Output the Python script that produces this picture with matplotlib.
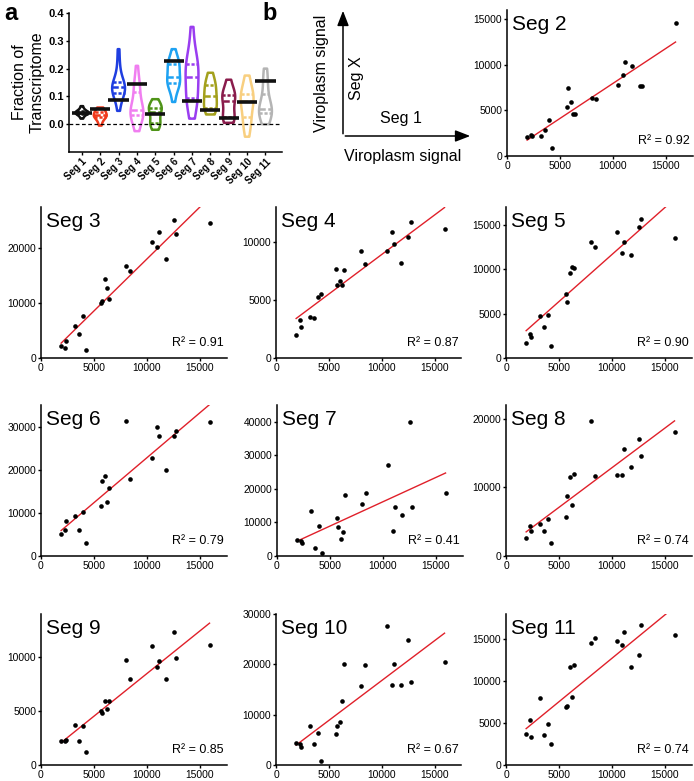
import numpy as np
import pandas as pd
import matplotlib
matplotlib.use('Agg')
import matplotlib.pyplot as plt
import seaborn as sns

plt.rcParams['font.family'] = ['Liberation Sans', 'DejaVu Sans']

# ---- panel a: fraction of transcriptome per segment ----
seg_names = ['Seg 1', 'Seg 2', 'Seg 3', 'Seg 4', 'Seg 5', 'Seg 6',
             'Seg 7', 'Seg 8', 'Seg 9', 'Seg 10', 'Seg 11']
seg_colors = ['#111111', '#f0391c', '#1f3ee0', '#f07ef0', '#4f9418', '#1ea2f2',
              '#9a3df0', '#a3a01c', '#8a1c4c', '#f8cf80', '#b4b4b4']
fractions = [
    [0.02, 0.03, 0.035, 0.038, 0.04, 0.041, 0.042, 0.043, 0.045, 0.048, 0.055, 0.065],
    [-0.005, 0.01, 0.02, 0.025, 0.028, 0.03, 0.032, 0.035, 0.04, 0.045, 0.05, 0.055, 0.06],
    [0.048, 0.08, 0.1, 0.11, 0.115, 0.12, 0.125, 0.13, 0.135, 0.14, 0.145, 0.15, 0.16, 0.19, 0.22, 0.27],
    [-0.025, 0.01, 0.025, 0.03, 0.035, 0.04, 0.045, 0.05, 0.055, 0.07, 0.1, 0.13, 0.14, 0.15, 0.21],
    [-0.02, -0.005, 0.0, 0.005, 0.01, 0.03, 0.045, 0.055, 0.058, 0.06, 0.065, 0.07, 0.09],
    [0.08, 0.12, 0.14, 0.145, 0.15, 0.155, 0.16, 0.17, 0.19, 0.21, 0.215, 0.22, 0.225, 0.23, 0.27],
    [0.02, 0.06, 0.08, 0.09, 0.1, 0.12, 0.15, 0.17, 0.19, 0.2, 0.21, 0.22, 0.24, 0.28, 0.35],
    [0.035, 0.05, 0.055, 0.06, 0.07, 0.09, 0.1, 0.11, 0.12, 0.14, 0.15, 0.155, 0.185],
    [0.005, 0.015, 0.02, 0.025, 0.03, 0.06, 0.085, 0.095, 0.1, 0.105, 0.11, 0.13, 0.16],
    [-0.045, -0.01, 0.0, 0.02, 0.04, 0.06, 0.08, 0.09, 0.095, 0.1, 0.11, 0.12, 0.15, 0.175],
    [0.0, 0.02, 0.035, 0.04, 0.045, 0.05, 0.055, 0.06, 0.08, 0.11, 0.14, 0.17, 0.2],
]
expected = [0.04, 0.053, 0.088, 0.145, 0.035, 0.228, 0.083, 0.052, 0.023, 0.08, 0.155]

# ---- panel b: viroplasm signal, Seg 1 vs Seg X ----
seg1_signal = [1900, 2300, 2400, 3200, 3550, 3950, 4250, 5700, 5750, 6000, 6200,
               6400, 8000, 8350, 10450, 10900, 11100, 11800, 12500, 12750, 15900]
seg2 = [2100, 2300, 2200, 2150, 2800, 4000, 900, 5400, 7400, 5900, 4550,
        4550, 6350, 6250, 7800, 8900, 10300, 9850, 7700, 7700, 14550]
seg3 = [2100, 1900, 3050, 5750, 4350, 7600, 1400, 10050, 10300, 14350, 12700,
        10800, 16700, 15900, 21100, 20300, 22950, 18100, 25100, 22600, 24600]
seg4 = [1950, 3300, 2700, 3550, 3450, 5250, 5500, 7700, 6300, 6650, 6300,
        7550, 9200, 8100, 9250, 10850, 9850, 8150, 10450, 11700, 11100]
seg5 = [1700, 2650, 2400, 4700, 3500, 4800, 1400, 7250, 6350, 9550, 10250,
        10150, 13050, 12500, 14150, 11850, 13050, 11550, 14700, 15700, 13500]
seg6 = [5100, 6000, 8200, 9250, 6000, 10200, 3100, 11500, 17350, 18500, 12450,
        15800, 31400, 17850, 22600, 29800, 27700, 19850, 27850, 29000, 31100]
seg7 = [4650, 4550, 3750, 13350, 2500, 9000, 1000, 11200, 8500, 5050, 7050,
        18100, 15350, 18900, 27100, 7400, 14650, 12100, 40000, 14550, 18800]
seg8 = [2600, 4400, 3650, 4650, 3650, 5350, 1950, 5700, 8800, 11500, 7400,
        12000, 19700, 11600, 11850, 11800, 15600, 12900, 17050, 14550, 18100]
seg9 = [2250, 2250, 2300, 3750, 2250, 3650, 1250, 5050, 4800, 5950, 5200,
        5950, 9750, 7950, 11000, 9050, 9600, 7950, 12350, 9900, 11150]
seg10 = [4300, 4200, 3500, 7800, 4200, 6400, 800, 6150, 7800, 8450, 12650,
         20100, 15750, 19800, 27650, 15900, 20100, 15900, 24800, 16550, 20500]
seg11 = [3650, 5350, 3350, 7950, 3600, 4900, 2450, 6950, 7000, 11650, 8100,
         11900, 14500, 15150, 14750, 14350, 15900, 11700, 13150, 16700, 15500]
r2_labels = ['0.92', '0.91', '0.87', '0.90', '0.79', '0.41', '0.74', '0.85', '0.67', '0.74']

W, H = 694, 781
fig = plt.figure(figsize=(W / 100, H / 100), dpi=100)


def px_axes(left, top, right, bottom):
    return fig.add_axes([left / W, 1 - bottom / H, (right - left) / W, (bottom - top) / H])


def style_spines(ax, size=7):
    for s in ['top', 'right']:
        ax.spines[s].set_visible(False)
    for s in ['left', 'bottom']:
        ax.spines[s].set_linewidth(1.1)
    ax.tick_params(length=2.5, width=1, labelsize=size, pad=1)


# ---- violin panel ----
ax = px_axes(69, 13, 282, 152)
long = pd.DataFrame({
    'seg': [n for n, vals in zip(seg_names, fractions) for _ in vals],
    'frac': [v for vals in fractions for v in vals],
})
sns.violinplot(data=long, x='seg', y='frac', hue='seg', order=seg_names,
               palette=seg_colors, legend=False, fill=False, inner='quart',
               cut=0, linewidth=1.8, width=0.7, density_norm='width', ax=ax)
for i, e in enumerate(expected):
    ax.plot([i - 0.55, i + 0.55], [e, e], color='#111111', lw=2.6, solid_capstyle='butt')
ax.axhline(0, color='black', lw=0.9, ls=(0, (3, 2)))
ax.set_xlim(-0.7, 10.9)
ax.set_ylim(-0.1, 0.4)
style_spines(ax, size=8)
ax.set_yticks([0.0, 0.1, 0.2, 0.3, 0.4])
ax.set_yticklabels(['0.0', '0.1', '0.2', '0.3', '0.4'], fontweight='bold')
ax.set_xlabel('')
ax.set_ylabel('Fraction of\nTranscriptome', fontsize=11.5, labelpad=3)
ax.set_xticks(range(len(seg_names)))
ax.set_xticklabels(seg_names, rotation=45, ha='right', rotation_mode='anchor',
                   fontsize=7, fontweight='bold')

# ---- overlay for labels and schematic ----
ov = fig.add_axes([0, 0, 1, 1])
ov.set_xlim(0, W)
ov.set_ylim(H, 0)
ov.axis('off')
ov.text(4, 2, 'a', fontsize=17, fontweight='bold', va='top')
ov.text(262, 2, 'b', fontsize=17, fontweight='bold', va='top')
ov.annotate('', xy=(343, 8), xytext=(343, 136.5),
            arrowprops=dict(arrowstyle='-|>,head_length=0.9,head_width=0.35', color='black', lw=1.1))
ov.annotate('', xy=(473, 136), xytext=(342.5, 136),
            arrowprops=dict(arrowstyle='-|>,head_length=0.9,head_width=0.35', color='black', lw=1.1))
ov.text(322, 73, 'Viroplasm signal', rotation=90, fontsize=11.5, ha='center', va='center')
ov.text(357, 78, 'Seg X', rotation=90, fontsize=11.5, ha='center', va='center')
ov.text(401, 119, 'Seg 1', fontsize=11.5, ha='center', va='center')
ov.text(403, 157, 'Viroplasm signal', fontsize=11.5, ha='center', va='center')

# ---- scatter panels ----
panels = [
    ('Seg 2', seg2, (507, 10, 156), 16000, [0, 5000, 10000, 15000]),
    ('Seg 3', seg3, (41, 207, 358), 27500, [0, 10000, 20000]),
    ('Seg 4', seg4, (276, 207, 358), 13000, [0, 5000, 10000]),
    ('Seg 5', seg5, (506, 207, 358), 17000, [0, 5000, 10000, 15000]),
    ('Seg 6', seg6, (41, 405, 556), 35000, [0, 10000, 20000, 30000]),
    ('Seg 7', seg7, (277, 405, 556), 45000, [0, 10000, 20000, 30000, 40000]),
    ('Seg 8', seg8, (506, 405, 556), 22000, [0, 10000, 20000]),
    ('Seg 9', seg9, (41, 614, 765), 14000, [0, 5000, 10000]),
    ('Seg 10', seg10, (276, 614, 765), 30000, [0, 10000, 20000, 30000]),
    ('Seg 11', seg11, (506, 614, 765), 18000, [0, 5000, 10000, 15000]),
]
xs = np.array(seg1_signal)
for (name, ys, (left, top, bottom), ymax, yticks), r2 in zip(panels, r2_labels):
    ax = px_axes(left, top, left + 185.5, bottom)
    ys = np.array(ys)
    slope, icpt = np.polyfit(xs, ys, 1)
    line_x = np.array([xs.min(), xs.max()])
    ax.plot(line_x, slope * line_x + icpt, color='#e0202a', lw=1.0, zorder=2)
    ax.scatter(xs, ys, s=11, color='black', zorder=3, linewidths=0)
    ax.set_xlim(0, 17500)
    ax.set_ylim(0, ymax)
    ax.set_xticks([0, 5000, 10000, 15000])
    ax.set_yticks(yticks)
    style_spines(ax, size=7.4)
    ax.text(0.025, 0.965, name, transform=ax.transAxes, fontsize=15, ha='left', va='top')
    ax.text(0.985, 0.08, 'R² = ' + r2, transform=ax.transAxes, fontsize=9,
            ha='right', va='baseline')

fig.savefig('out.png', dpi=100)
